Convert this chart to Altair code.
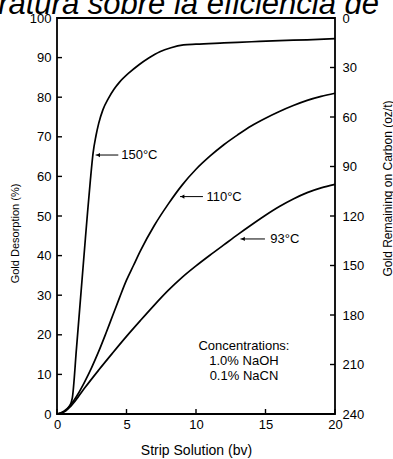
import altair as alt
import pandas as pd

# ---------------- data ----------------
strip_150 = [0, 0.3, 0.6, 0.9, 1.1, 1.4, 1.7, 2.0, 2.2, 2.4, 2.6, 2.8, 3.0, 3.3, 3.7, 4.1,
             4.5, 5.2, 5.9, 6.6, 7.4, 8.2, 9.1, 10, 12, 14, 16, 18, 20]
desorb_150 = [0, 0.2, 0.7, 2.0, 4.0, 16.5, 29.5, 42.5, 51, 59, 66, 70.2, 73.4, 76.8, 79.7, 82,
              83.8, 86.2, 88.2, 89.9, 91.5, 92.5, 93.2, 93.4, 93.7, 94.0, 94.3, 94.5, 94.8]

strip_110 = [0, 0.5, 1, 1.5, 2, 2.5, 3, 3.5, 4, 4.5, 5, 5.5, 6, 7, 8, 9, 10, 11, 12, 13, 14,
             15, 16, 17, 18, 19, 20]
desorb_110 = [0, 0.7, 2.4, 5.0, 8.2, 11.8, 15.8, 20.2, 24.8, 29.4, 33.8, 37.5, 41.2, 47.6, 53.0,
              57.8, 61.8, 65.1, 68.0, 70.5, 72.8, 74.7, 76.4, 77.9, 79.2, 80.2, 81.0]

strip_93 = [0, 0.5, 1, 1.5, 2, 3, 4, 5, 6, 7, 8, 9, 10, 11, 12, 13, 14, 15, 16, 17, 18, 19, 20]
desorb_93 = [0, 0.6, 2.0, 4.2, 6.6, 11.1, 15.4, 19.6, 23.6, 27.5, 31.2, 34.5, 37.4, 40.1, 42.7,
             45.3, 47.8, 50.2, 52.4, 54.3, 55.9, 57.1, 58.0]

x_ticks = [0, 5, 10, 15, 20]
y_ticks = [0, 10, 20, 30, 40, 50, 60, 70, 80, 90, 100]
right_ticks = [0, 30, 60, 90, 120, 150, 180, 210, 240]

label_text = ["150°C", "110°C", "93°C"]
arrow_tip_x = [2.78, 8.85, 13.2]
arrow_end_x = [4.41, 10.5, 14.96]
label_x = [4.62, 10.75, 15.35]
arrow_y = [65.4, 54.9, 44.2]

note_text = "Concentrations:\n1.0% NaOH\n0.1% NaCN"
note_x = [13.45]
note_y = [17.2]

title_text = "Efecto de la temperatura sobre la eficiencia de"

# ---------------- tables ----------------
rows = []
for name, xs, ys in [("150°C", strip_150, desorb_150),
                     ("110°C", strip_110, desorb_110),
                     ("93°C", strip_93, desorb_93)]:
    for a, b in zip(xs, ys):
        rows.append({"series": name, "x": a, "y": b})
curves = pd.DataFrame(rows)

arrows = pd.DataFrame({"label": label_text, "tip": arrow_tip_x, "end": arrow_end_x,
                       "lx": label_x, "y": arrow_y})
xt = pd.DataFrame({"x": x_ticks})
yt = pd.DataFrame({"y": y_ticks})
rt = pd.DataFrame({"r": right_ticks})
note = pd.DataFrame({"x": note_x, "y": note_y, "t": [note_text]})
ttl = pd.DataFrame({"t": [title_text]})

FONT = "Liberation Sans"
W, H = 278, 396

xscale = alt.Scale(domain=[0, 20], nice=False, zero=False)
yscale = alt.Scale(domain=[0, 100], nice=False)

x_axis = alt.Axis(values=x_ticks, tickSize=0, domain=False, grid=False, labelFlush=False,
                  labelFontSize=13, labelPadding=4, labelColor="black", labelFont=FONT,
                  title="Strip Solution (bv)", titleFontSize=14, titleFont=FONT,
                  titleFontWeight="normal", titleColor="black", titleY=36,
                  titleBaseline="middle")
y_axis = alt.Axis(values=y_ticks, tickSize=0, domain=False, grid=False, labelFlush=False,
                  labelFontSize=13, labelPadding=6, labelColor="black", labelFont=FONT,
                  title="Gold Desorption (%)", titleFontSize=11, titleFont=FONT,
                  titleFontWeight="normal", titleColor="black", titleX=-42, titleY=215,
                  titleBaseline="middle", titleAngle=270)


def X(field):
    return alt.X(field, scale=xscale, axis=x_axis)


def Y(field):
    return alt.Y(field, scale=yscale, axis=y_axis)


lines = alt.Chart(curves).mark_line(color="black", strokeWidth=1.7, interpolate="monotone").encode(
    x=X("x:Q"), y=Y("y:Q"), detail="series:N",
)

left_ticks = alt.Chart(yt).mark_rule(color="black", strokeWidth=1.4).encode(
    y=Y("y:Q"), x=alt.value(0), x2=alt.value(5),
)
bottom_ticks = alt.Chart(xt).mark_rule(color="black", strokeWidth=1.4).encode(
    x=X("x:Q"), y=alt.value(H), y2=alt.value(H - 5),
)

arrow_lines = alt.Chart(arrows).mark_rule(color="black", strokeWidth=1).encode(
    x=X("tip:Q"), x2="end:Q", y=Y("y:Q"),
)
arrow_heads = alt.Chart(arrows).mark_point(shape="triangle-left", filled=True, size=18,
                                           color="black", opacity=1, xOffset=2.5).encode(
    x=X("tip:Q"), y=Y("y:Q"),
)
arrow_text = alt.Chart(arrows).mark_text(align="left", baseline="middle", fontSize=13,
                                         font=FONT, color="black").encode(
    x=X("lx:Q"), y=Y("y:Q"), text="label:N",
)
note_mark = alt.Chart(note).mark_text(align="center", baseline="middle", fontSize=13,
                                      font=FONT, color="black", lineBreak="\n",
                                      lineHeight=15).encode(
    x=X("x:Q"), y=Y("y:Q"), text="t:N",
)
title_mark = alt.Chart(ttl).mark_text(align="right", baseline="alphabetic", fontSize=31,
                                      font=FONT, fontStyle="italic", color="black").encode(
    x=alt.value(322), y=alt.value(-4), text="t:N",
)

left_group = alt.layer(lines, left_ticks, bottom_ticks, arrow_lines, arrow_heads,
                       arrow_text, note_mark, title_mark)

right_axis = alt.Axis(values=right_ticks, tickSize=0, domain=False, grid=False, orient="right",
                      labelFlush=False, labelFontSize=13, labelPadding=7, labelColor="black",
                      labelFont=FONT, title="Gold Remaining on Carbon (oz/t)", titleFontSize=12,
                      titleFont=FONT, titleFontWeight="normal", titleColor="black",
                      titleX=52, titleY=170, titleBaseline="middle", titleAngle=270)
right_ticks_mark = alt.Chart(rt).mark_rule(color="black", strokeWidth=1.4).encode(
    y=alt.Y("r:Q", scale=alt.Scale(domain=[0, 240], reverse=True, nice=False), axis=right_axis),
    x=alt.value(W), x2=alt.value(W - 5),
)

chart = alt.layer(left_group, right_ticks_mark).resolve_scale(y="independent").properties(
    width=W, height=H,
    autosize=alt.AutoSizeParams(type="none"),
    padding={"left": 57, "top": 18, "right": 58, "bottom": 45},
    background="white",
).configure_view(stroke="black", strokeWidth=1.8)

chart.save("out.html", embed_options={"renderer": "svg", "actions": False})
